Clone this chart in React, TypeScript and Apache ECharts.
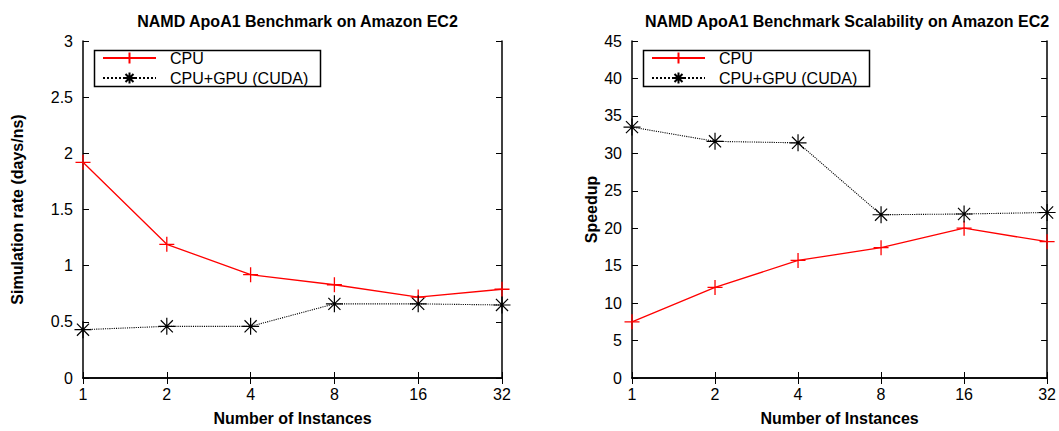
import React, { useEffect, useRef } from "react";
import * as echarts from "echarts";

const instances = ["1", "2", "4", "8", "16", "32"];
const rateCPU = [1.92, 1.19, 0.92, 0.83, 0.72, 0.79];
const rateGPU = [0.43, 0.46, 0.46, 0.66, 0.66, 0.65];
const speedCPU = [7.5, 12.1, 15.7, 17.4, 20.0, 18.2];
const speedGPU = [33.5, 31.6, 31.4, 21.8, 21.9, 22.1];
const seriesNames = ["CPU", "CPU+GPU (CUDA)"];
const titles = ["NAMD ApoA1 Benchmark on Amazon EC2", "NAMD ApoA1 Benchmark Scalability on Amazon EC2"];
const yNames = ["Simulation rate (days/ns)", "Speedup"];
const xName = "Number of Instances";

const FONT = "'Liberation Sans', Arial, Helvetica, sans-serif";
const FS = 16;
const PLUS = "path://M7,0L7,14M0,7L14,7";
const STAR = "path://M8,0L8,16M0,8L16,8M2.3,2.3L13.7,13.7M2.3,13.7L13.7,2.3";

export default function App() {
  const ref = useRef<HTMLDivElement>(null);
  useEffect(() => {
    if (!ref.current) return;
    const chart = echarts.init(ref.current, undefined, { renderer: "svg" });
    const grids = [
      { left: 83, top: 41, width: 419, height: 340 },
      { left: 632, top: 41, width: 420, height: 340 },
    ];
    const yRanges = [
      { min: 0, max: 3, interval: 0.5 },
      { min: 0, max: 45, interval: 5 },
    ];
    const nameGaps = [58, 33];
    const xAxes: any[] = [];
    const yAxes: any[] = [];
    grids.forEach((g, i) => {
      xAxes.push({
        type: "category",
        gridIndex: i,
        data: instances,
        boundaryGap: false,
        position: "bottom",
        name: xName,
        nameLocation: "middle",
        nameGap: 32,
        nameTextStyle: { fontFamily: FONT, fontWeight: "bold", fontSize: FS, color: "#000" },
        axisLine: { lineStyle: { color: "#000", width: 1.5 } },
        axisTick: { inside: true, length: 6, lineStyle: { color: "#000", width: 1 } },
        axisLabel: { color: "#000", fontFamily: FONT, fontSize: FS, margin: 8 },
        splitLine: { show: false },
      });
      xAxes.push({
        type: "category",
        gridIndex: i,
        data: instances,
        boundaryGap: false,
        position: "top",
        axisLine: { lineStyle: { color: "#000", width: 1.5 } },
        axisTick: { inside: true, length: 6, lineStyle: { color: "#000", width: 1 } },
        axisLabel: { show: false },
        splitLine: { show: false },
      });
      yAxes.push({
        type: "value",
        gridIndex: i,
        ...yRanges[i],
        position: "left",
        name: yNames[i],
        nameLocation: "middle",
        nameGap: nameGaps[i],
        nameTextStyle: { fontFamily: FONT, fontWeight: "bold", fontSize: FS, color: "#000" },
        axisLine: { show: true, lineStyle: { color: "#000", width: 1.5 } },
        axisTick: { show: true, inside: true, length: 6, lineStyle: { color: "#000", width: 1 } },
        axisLabel: { color: "#000", fontFamily: FONT, fontSize: FS, margin: 10 },
        splitLine: { show: false },
      });
      yAxes.push({
        type: "value",
        gridIndex: i,
        ...yRanges[i],
        position: "right",
        axisLine: { show: true, lineStyle: { color: "#000", width: 1.5 } },
        axisTick: { show: true, inside: true, length: 6, lineStyle: { color: "#000", width: 1 } },
        axisLabel: { show: false },
        splitLine: { show: false },
      });
    });

    const mk = (name: string, data: number[], axisIdx: number, cpu: boolean) => ({
      type: "line",
      name,
      xAxisIndex: axisIdx * 2,
      yAxisIndex: axisIdx * 2,
      data,
      symbol: cpu ? PLUS : STAR,
      symbolSize: cpu ? 15 : 17,
      showSymbol: true,
      itemStyle: {
        color: cpu ? "#ff0000" : "#000",
        borderColor: cpu ? "#ff0000" : "#000",
        borderWidth: cpu ? 1.3 : 1.2,
      },
      lineStyle: {
        color: cpu ? "#ff0000" : "#000",
        width: cpu ? 1.3 : 1.1,
        type: cpu ? "solid" : "dotted",
      },
      emphasis: { disabled: true },
    });

    const series = [
      mk(seriesNames[0], rateCPU, 0, true),
      mk(seriesNames[1], rateGPU, 0, false),
      mk(seriesNames[0], speedCPU, 1, true),
      mk(seriesNames[1], speedGPU, 1, false),
    ];

    const legendCommon = {
      orient: "vertical",
      padding: 0,
      itemWidth: 53,
      itemHeight: 14,
      itemGap: 4,
      selectedMode: false,
      data: seriesNames,
      formatter: (n: string) => `{g|}${n}`,
      textStyle: {
        color: "#000",
        fontFamily: FONT,
        fontSize: FS,
        rich: { g: { width: 9 } },
      },
    };

    chart.setOption({
      animation: false,
      backgroundColor: "#fff",
      title: titles.map((t, i) => ({
        text: t,
        left: grids[i].left + grids[i].width / 2,
        textAlign: "center",
        top: 8,
        textStyle: { fontFamily: FONT, fontWeight: "bold", fontSize: FS, color: "#000" },
      })),
      grid: grids,
      xAxis: xAxes,
      yAxis: yAxes,
      legend: [
        { ...legendCommon, left: 102, top: 50 },
        { ...legendCommon, left: 651, top: 50 },
      ],
      graphic: [
        { type: "rect", left: 92, top: 48, shape: { width: 226, height: 36 }, style: { fill: "none", stroke: "#000", lineWidth: 1.5 }, z: 100 },
        { type: "rect", left: 641, top: 48, shape: { width: 226, height: 36 }, style: { fill: "none", stroke: "#000", lineWidth: 1.5 }, z: 100 },
      ],
      series,
    });
    return () => chart.dispose();
  }, []);
  return (
    <div
      ref={ref}
      style={{ position: "fixed", left: 0, top: 0, width: 1059, height: 431, background: "#fff" }}
    />
  );
}
